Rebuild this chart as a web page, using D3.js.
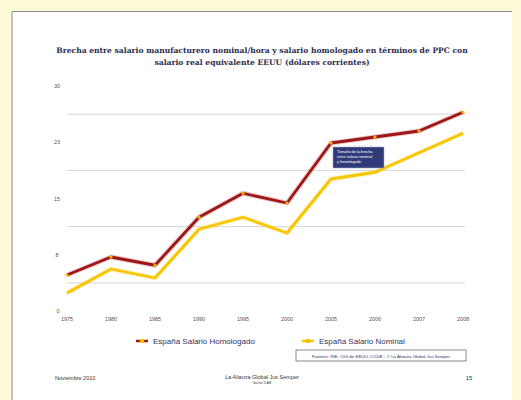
<!DOCTYPE html>
<html>
<head>
<meta charset="utf-8">
<script src="https://cdn.jsdelivr.net/npm/d3@7"></script>
<style>
  html, body { margin: 0; padding: 0; background: #fcfad8; }
  svg { display: block; }
</style>
</head>
<body>
<svg id="chart" width="521" height="400"></svg>
<script>
const svg = d3.select("#chart"),
      width = +svg.attr("width"),
      height = +svg.attr("height");

// --- data ---
const years = ["1975","1980","1985","1990","1995","2000","2005","2006","2007","2008"];
const homologado = [4.8, 7.2, 6.1, 12.5, 15.7, 14.4, 22.4, 23.2, 24.0, 26.5];
const nominal    = [2.4, 5.6, 4.4, 10.9, 12.5, 10.4, 17.6, 18.5, 21.1, 23.7];
const yTickValues = [0, 7.5, 15, 22.5, 30];
const yTickLabels = ["0", "8", "15", "23", "30"];
const gridValues = [3.75, 11.25, 18.75, 26.25];

const titleLines = [
  "Brecha entre salario manufacturero nominal/hora y salario homologado en términos de PPC con",
  "salario real equivalente EEUU (dólares corrientes)"
];
const seriesNames = ["España Salario Homologado", "España Salario Nominal"];
const calloutLines = ["Tamaño de la brecha", "entre salario nominal", "y homologado"];

// --- page ---
svg.append("rect").attr("x", 12).attr("y", 11).attr("width", 500).attr("height", height - 11)
  .attr("fill", "#ffffff");
svg.append("path").attr("d", "M12,400 V11.5 H512")
  .attr("fill", "none").attr("stroke", "#8a8a8a").attr("stroke-width", 1);

const defs = svg.append("defs");
const glow = defs.append("filter").attr("id", "glow").attr("x", "-5%").attr("y", "-20%")
  .attr("width", "110%").attr("height", "140%");
glow.append("feGaussianBlur").attr("stdDeviation", 0.5);

// title
svg.append("g").selectAll("text").data(titleLines).enter().append("text")
  .attr("x", 262).attr("y", (d, i) => 53 + i * 12)
  .attr("text-anchor", "middle")
  .attr("font-family", "'DejaVu Serif', serif").attr("font-weight", "bold")
  .attr("font-size", 7.6).attr("fill", "#2a2c4c")
  .text(d => d);

// --- chart ---
const x = d3.scalePoint().domain(years).range([67, 463]);
const y = d3.scaleLinear().domain([0, 30]).range([311, 86]);

svg.append("g").selectAll("line").data(gridValues).enter().append("line")
  .attr("x1", 67).attr("x2", 465)
  .attr("y1", d => y(d)).attr("y2", d => y(d))
  .attr("stroke", "#d6d6d6").attr("stroke-width", 1);

svg.append("g").selectAll("text").data(yTickValues).enter().append("text")
  .attr("x", d => d === 0 ? 58 : 57).attr("y", d => y(d) + 2)
  .attr("text-anchor", "middle")
  .attr("font-family", "'Liberation Sans', sans-serif").attr("font-size", 5.5).attr("fill", "#555")
  .text((d, i) => yTickLabels[i]);

svg.append("g").selectAll("text").data(years).enter().append("text")
  .attr("x", d => x(d)).attr("y", 321)
  .attr("text-anchor", "middle")
  .attr("font-family", "'Liberation Sans', sans-serif").attr("font-size", 5.5).attr("fill", "#555")
  .text(d => d);

const line = d3.line().x((d, i) => x(years[i])).y(d => y(d));

const series = [
  {name: seriesNames[0], values: homologado, color: "#9e1717"},
  {name: seriesNames[1], values: nominal, color: "#f7c600"}
];

// soft halo under lines
svg.append("g").selectAll("path").data(series).enter().append("path")
  .attr("d", d => line(d.values))
  .attr("fill", "none").attr("stroke", d => d.color).attr("stroke-opacity", 0.22)
  .attr("stroke-width", 5).attr("stroke-linejoin", "round");

svg.append("g").selectAll("path").data(series).enter().append("path")
  .attr("d", d => line(d.values))
  .attr("fill", "none").attr("stroke", d => d.color)
  .attr("stroke-width", 2.8).attr("stroke-linejoin", "round")
  .attr("filter", "url(#glow)");

// markers on homologado line
svg.append("g").selectAll("circle").data(homologado).enter().append("circle")
  .attr("cx", (d, i) => x(years[i])).attr("cy", d => y(d)).attr("r", 1.6)
  .attr("fill", "#f5b800");

// callout
const callout = svg.append("g").attr("transform", "translate(333,147)");
callout.append("rect").attr("width", 51).attr("height", 21).attr("fill", "#2f3a78")
  .attr("stroke", "#a0a6c8").attr("stroke-width", 0.6);
callout.selectAll("text").data(calloutLines).enter().append("text")
  .attr("x", 4).attr("y", (d, i) => 6 + i * 5)
  .attr("font-family", "'Liberation Sans', sans-serif").attr("font-size", 3.8).attr("fill", "#ffffff")
  .text(d => d);

// legend
const legend = svg.append("g");
const legendX = [136, 302];
series.forEach((s, i) => {
  const g = legend.append("g").attr("transform", `translate(${legendX[i]},341)`);
  g.append("line").attr("x1", 0).attr("x2", 12).attr("y1", 0).attr("y2", 0)
    .attr("stroke", s.color).attr("stroke-width", 2.5);
  g.append("circle").attr("cx", 6).attr("cy", 0).attr("r", 2.3).attr("fill", "#f5c000");
  g.append("text").attr("x", 17).attr("y", 2.7)
    .attr("font-family", "'Liberation Sans', sans-serif").attr("font-size", 8).attr("fill", "#2e3566")
    .text(s.name);
});

// source box
svg.append("rect").attr("x", 296).attr("y", 350).attr("width", 170).attr("height", 11)
  .attr("fill", "#fff").attr("stroke", "#6a6a7a").attr("stroke-width", 0.8);
svg.append("text").attr("x", 381).attr("y", 357.5).attr("text-anchor", "middle")
  .attr("font-family", "'Liberation Sans', sans-serif").attr("font-size", 4.4).attr("fill", "#2e3566")
  .text("Fuentes: INE, OIG de EEUU, OCDE - © La Alianza Global Jus Semper");

// footer
const foot = svg.append("g").attr("font-family", "'Liberation Sans', sans-serif").attr("fill", "#333");
foot.append("text").attr("x", 55).attr("y", 380).attr("font-size", 5.5).text("Noviembre 2010");
foot.append("text").attr("x", 262).attr("y", 379).attr("text-anchor", "middle").attr("font-size", 5.5)
  .text("La Alianza Global Jus Semper");
foot.append("text").attr("x", 262).attr("y", 384).attr("text-anchor", "middle").attr("font-size", 3)
  .text("Gaceta TLAM");
foot.append("text").attr("x", 469).attr("y", 380).attr("text-anchor", "middle").attr("font-size", 6)
  .text("15");
</script>
</body>
</html>
